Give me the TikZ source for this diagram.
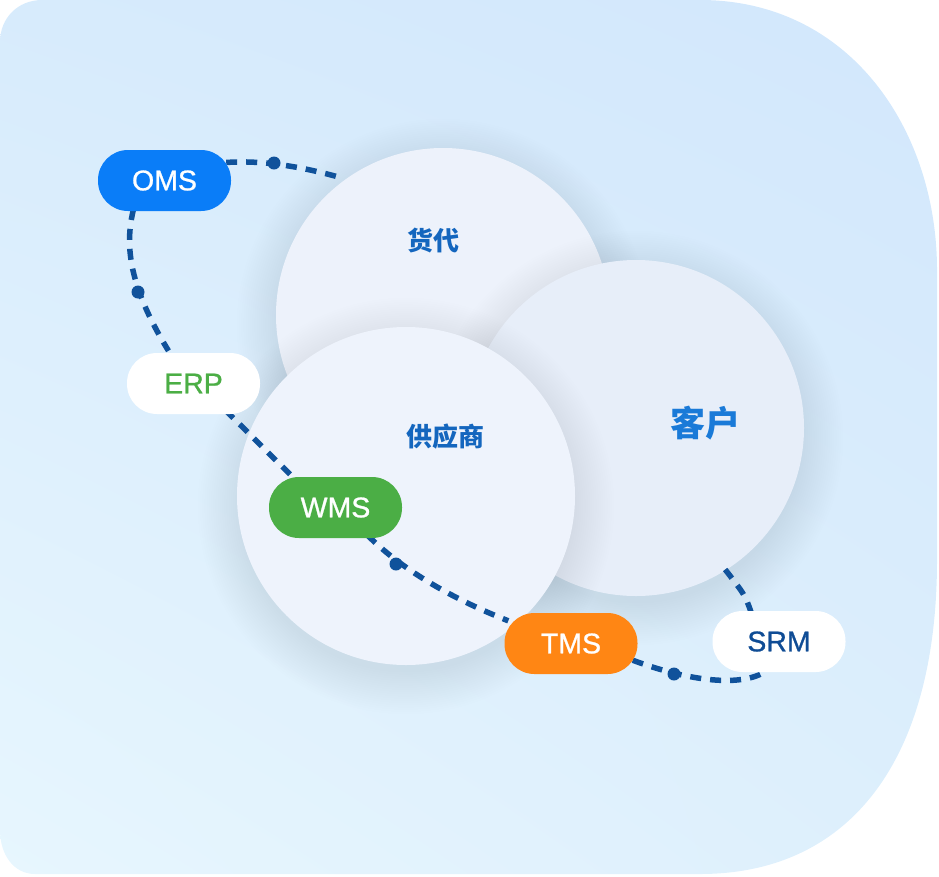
\documentclass[tikz,border=0pt]{standalone}
\usepackage{fontspec}
\setmainfont{Liberation Sans}
\newfontfamily\pillfont[FakeBold=0.9]{Liberation Sans}
\newfontfamily\cjk{Noto Sans CJK SC}
\usetikzlibrary{calc,shadings}
\definecolor{bgTL}{HTML}{D7EBFC}
\definecolor{bgTR}{HTML}{D2E7FC}
\definecolor{bgBL}{HTML}{E7F6FE}
\definecolor{bgBR}{HTML}{DDEFFC}
\definecolor{circA}{HTML}{EDF2FB}
\definecolor{circB}{HTML}{E7EEF9}
\definecolor{circC}{HTML}{EEF3FC}
\definecolor{shadowc}{HTML}{7E9DC6}
\definecolor{linec}{HTML}{10529B}
\definecolor{cjkblue}{HTML}{1466BE}
\definecolor{custblue}{HTML}{1A7AD8}
\definecolor{omsblue}{HTML}{0A7DF8}
\definecolor{erpgreen}{HTML}{4BAE45}
\definecolor{tmsorange}{HTML}{FF8614}
\definecolor{srmblue}{HTML}{0F4C95}
\pgfdeclarelayer{bg}
\pgfdeclarelayer{fg}
\pgfsetlayers{bg,main,fg}
\begin{document}
\begin{tikzpicture}[x=1pt,y=-1pt,
  pill/.style={rounded corners=30pt, minimum width=133pt, minimum height=61pt,
    inner sep=0pt, font=\pillfont\fontsize{28.5}{30}\selectfont},
  cjklabel/.style={font=\cjk\bfseries\fontsize{26}{30}\selectfont, text=cjkblue},
  dl/.style={draw=linec, line width=5.5pt, dash pattern=on 11pt off 9pt},
  dotm/.style={fill=linec},
]
\useasboundingbox (0,0) rectangle (939,876);
\begin{pgfonlayer}{bg}
\shade[upper left=bgTL, upper right=bgTR, lower left=bgBL, lower right=bgBR]
  (42,0) -- (700,0) .. controls (850,0) and (937,130) .. (937,270)
  -- (937,560) .. controls (937,760) and (850,874) .. (700,874)
  -- (35,874) .. controls (14,874) and (0,855) .. (0,830)
  -- (0,42) .. controls (0,18) and (18,0) .. (42,0) -- cycle;
% circle 货代
\foreach \k in {1,...,20}{\fill[shadowc, opacity=0.007] (443,325) circle ({162pt+\k*2.2pt});}
\fill[circA] (443,315) circle (167pt);
% circle 客户
\foreach \k in {1,...,20}{\fill[shadowc, opacity=0.007] (636,438) circle ({163pt+\k*2.2pt});}
\fill[circB] (636,428) circle (168pt);
% circle 供应商
\foreach \k in {1,...,20}{\fill[shadowc, opacity=0.007] (406,506) circle ({164pt+\k*2.2pt});}
\fill[circC] (406,496) circle (169pt);
\end{pgfonlayer}

\node[cjklabel] (hd) at (433,240) {货代};
\node[cjklabel, text=custblue, font=\cjk\bfseries\fontsize{35}{40}\selectfont] (kh) at (705,423) {客户};
\node[cjklabel] (gys) at (445,437) {供应商};

\begin{pgfonlayer}{fg}
\node[pill, fill=omsblue, text=white] (OMS) at (164.5,180.5) {OMS};
\node[pill, fill=white, text=erpgreen] (ERP) at (193.5,383.5) {ERP};
\node[pill, fill=erpgreen, text=white] (WMS) at (335.5,507.5) {WMS};
\node[pill, fill=tmsorange, text=white] (TMS) at (571,643.5) {TMS};
\node[pill, fill=white, text=srmblue] (SRM) at (779,641.5) {SRM};
\end{pgfonlayer}

\coordinate (endA) at (342,178);
\coordinate (endF) at (724,568);

\draw[dl] ($(OMS.east)+(-5,-18)$) .. controls (260,160) and (300,166) .. (endA);
\draw[dl] ($(OMS.south)+(-31,-2)$) .. controls (126,240) and (125,280) .. ($(ERP.north)+(-25,-2)$);
\draw[dl] ($(ERP.south)+(32,-4)$) -- ($(WMS.north)+(-45,-2)$);
\draw[dl] ($(WMS.south)+(32,-3)$) .. controls (400,568) and (450,598) .. ($(TMS.north west)+(4,8)$);
\draw[dl] ($(TMS.south east)+(-5,-14)$) .. controls (680,678) and (740,690) .. ($(SRM.south west)+(55,-2)$);
\draw[dl] ($(SRM.north west)+(39,2)$) .. controls (745,595) .. (endF);

\fill[dotm] (274,163) circle (6.5pt);
\fill[dotm] (138,292) circle (6.5pt);
\fill[dotm] (396,564) circle (6.5pt);
\fill[dotm] (674,674) circle (6.5pt);
\end{tikzpicture}
\end{document}
